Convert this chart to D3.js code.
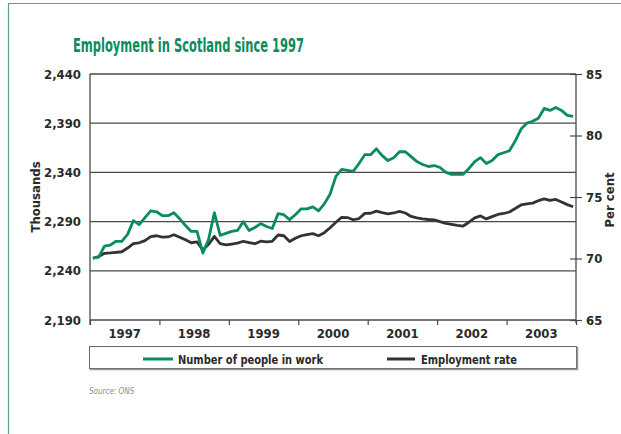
<!DOCTYPE html>
<html><head><meta charset="utf-8">
<script src="https://cdn.jsdelivr.net/npm/d3@7"></script>
<style>
html,body{margin:0;padding:0;background:#fff;}
svg text{font-family:"Liberation Sans Narrow","DejaVu Sans Condensed","Roboto Condensed",sans-serif;}
</style></head>
<body>
<svg id="chart" width="621" height="434"></svg>
<script>
// ---- Data (monthly, Jan 1997 – Dec 2003) ----
const years = ["1997","1998","1999","2000","2001","2002","2003"];
const leftTicks = [2190,2240,2290,2340,2390,2440];
const rightTicks = [65,70,75,80,85];
const peopleInWork = [
2253,2254,2265,2266,2270,2270,2277,2291,2287,2294,2301,2300,
2296,2296,2299,2293,2286,2280,2280,2258,2272,2299,2276,2278,
2280,2281,2290,2281,2284,2288,2285,2283,2298,2297,2292,2297,
2303,2303,2305,2301,2308,2318,2336,2343,2342,2341,2349,2358,
2358,2364,2357,2352,2355,2361,2361,2356,2351,2348,2346,2347,
2345,2340,2338,2338,2338,2344,2351,2355,2349,2352,2358,2360,
2362,2372,2384,2390,2392,2395,2405,2403,2406,2403,2398,2397];
const employmentRate = [
70.02,70.15,70.42,70.45,70.50,70.55,70.85,71.20,71.28,71.45,71.78,71.85,
71.74,71.75,71.93,71.72,71.52,71.28,71.35,70.69,71.15,71.80,71.20,71.10,
71.17,71.25,71.40,71.30,71.20,71.41,71.36,71.40,71.91,71.85,71.38,71.64,
71.85,71.95,72.02,71.85,72.10,72.50,72.95,73.35,73.33,73.15,73.25,73.67,
73.68,73.85,73.73,73.63,73.70,73.83,73.70,73.42,73.30,73.22,73.17,73.14,
73.00,72.85,72.78,72.70,72.64,72.95,73.30,73.46,73.22,73.40,73.58,73.66,
73.78,74.06,74.35,74.44,74.50,74.70,74.85,74.72,74.80,74.60,74.38,74.21];
const seriesNames = ["Number of people in work","Employment rate"];

const GREEN = "#0b8c5c", DARK = "#333333", GRID = "#4a4a4a";
const svg = d3.select("#chart");

// frame
svg.append("path").attr("d","M8.5,440 V3.5 H630").attr("fill","none")
  .attr("stroke","#5f9f86").attr("stroke-width",1.2);

const L = 90, R = 576, T = 74, B = 320;
const x = d3.scaleLinear().domain([0, years.length*12]).range([L, R]);
const yBand = d3.scaleBand().domain(years).range([L, R]);
const yL = d3.scaleLinear().domain([2190,2440]).range([B, T]);
const yR = d3.scaleLinear().domain([65,85]).range([B, T]);

// title
svg.append("text").attr("x",73).attr("y",52).text("Employment in Scotland since 1997")
  .attr("fill",GREEN).attr("font-size",19).attr("font-weight","bold")
  .attr("textLength",231).attr("lengthAdjust","spacingAndGlyphs");

// gridlines
svg.append("g").selectAll("line").data(leftTicks.filter(d=>d>2190)).join("line")
  .attr("x1",L).attr("x2",R).attr("y1",d=>yL(d)).attr("y2",d=>yL(d))
  .attr("stroke",GRID).attr("stroke-width",1.3);

// left axis
const gl = svg.append("g").attr("transform",`translate(${L},0)`)
  .call(d3.axisLeft(yL).tickValues(leftTicks).tickSize(0).tickPadding(9).tickFormat(d3.format(",")));
gl.select(".domain").attr("stroke",GRID).attr("stroke-width",1.3).attr("d",`M0,${T}V${B+5}`);
gl.selectAll("text").attr("font-size",13).attr("font-weight","bold").attr("fill","#2a2a2a")
  .attr("font-family",null);

// right axis
const gr = svg.append("g").attr("transform",`translate(${R},0)`)
  .call(d3.axisRight(yR).tickValues(rightTicks).tickSize(6).tickPadding(4));
gr.select(".domain").attr("stroke",GRID).attr("stroke-width",1.3).attr("d",`M0,${T}V${B+3}`);
gr.selectAll(".tick line").attr("x1",-6).attr("x2",6).attr("stroke",GRID).attr("stroke-width",1.2);
gr.selectAll("text").attr("font-size",13).attr("font-weight","bold").attr("fill","#2a2a2a")
  .attr("font-family",null);

// bottom axis
const gb = svg.append("g").attr("transform",`translate(0,${B})`)
  .call(d3.axisBottom(x).tickValues(d3.range(0, years.length*12+1, 12)).tickSize(5).tickFormat(""));
gb.select(".domain").attr("stroke",GRID).attr("stroke-width",1.3).attr("d",`M${L},0H${R}`);
gb.selectAll(".tick line").attr("stroke",GRID).attr("stroke-width",1.2);
svg.append("g").selectAll("text").data(years).join("text")
  .attr("x",d=>yBand(d)+yBand.bandwidth()/2).attr("y",337.5)
  .attr("text-anchor","middle").attr("font-size",13).attr("font-weight","bold")
  .attr("fill","#2a2a2a").text(d=>d);

// axis titles
svg.append("text").attr("transform","translate(40,197) rotate(-90)").attr("text-anchor","middle")
  .attr("font-size",13).attr("font-weight","bold").attr("fill","#2a2a2a").text("Thousands");
svg.append("text").attr("transform","translate(614,200) rotate(-90)").attr("text-anchor","middle")
  .attr("font-size",13).attr("font-weight","bold").attr("fill","#2a2a2a").text("Per cent");

// lines
const lineL = d3.line().x((d,i)=>x(i+0.5)).y(d=>yL(d)).curve(d3.curveLinear);
const lineR = d3.line().x((d,i)=>x(i+0.5)).y(d=>yR(d)).curve(d3.curveLinear);
svg.append("path").datum(employmentRate).attr("d",lineR).attr("fill","none")
  .attr("stroke",DARK).attr("stroke-width",2.8).attr("stroke-linejoin","round");
svg.append("path").datum(peopleInWork).attr("d",lineL).attr("fill","none")
  .attr("stroke",GREEN).attr("stroke-width",2.8).attr("stroke-linejoin","round");

// legend
const lg = svg.append("g");
lg.append("rect").attr("x",89.5).attr("y",346.5).attr("width",487).attr("height",22)
  .attr("fill","#fff").attr("stroke","#666").attr("stroke-width",1);
lg.append("path").attr("d","M90,369.5H577.5V347").attr("fill","none").attr("stroke","#999").attr("stroke-width",1.5);
const legendItems = [
  {name:seriesNames[0], color:GREEN, x1:143, x2:173, tx:178, tw:145},
  {name:seriesNames[1], color:DARK,  x1:387, x2:415, tx:421, tw:96}
];
legendItems.forEach(it=>{
  lg.append("line").attr("x1",it.x1).attr("x2",it.x2).attr("y1",359).attr("y2",359)
    .attr("stroke",it.color).attr("stroke-width",3);
  lg.append("text").attr("x",it.tx).attr("y",363.5).attr("font-size",13).attr("font-weight","bold")
    .attr("fill","#2a2a2a").attr("textLength",it.tw).attr("lengthAdjust","spacingAndGlyphs").text(it.name);
});

// source
svg.append("text").attr("x",89).attr("y",394).attr("font-size",8).attr("font-style","italic")
  .attr("fill","#8a8a8a").text("Source: ONS");
</script>
</body></html>
